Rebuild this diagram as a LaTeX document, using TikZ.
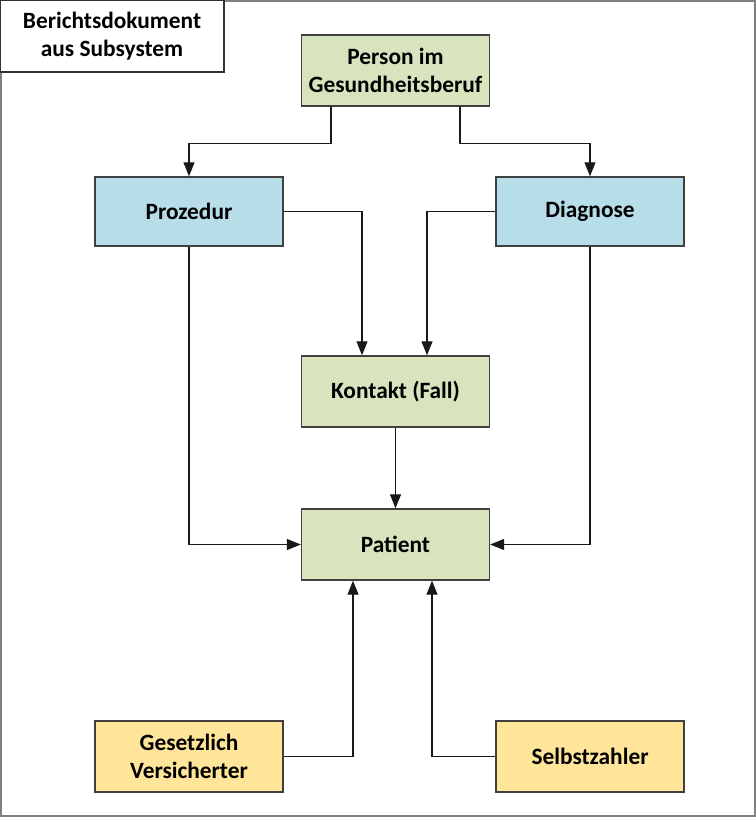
\documentclass[tikz,border=0pt]{standalone}
\usepackage{fontspec}
\setmainfont{Carlito}
\usepackage{tikz}
\usetikzlibrary{arrows.meta,calc}
\usepackage{xcolor}
\definecolor{boxgreen}{HTML}{D7E4BD}
\definecolor{boxblue}{HTML}{B7DDE8}
\definecolor{boxyellow}{HTML}{FEE599}
\definecolor{edgegray}{HTML}{404040}
\definecolor{framegray}{HTML}{808080}

\begin{document}
\begin{tikzpicture}[x=0.02cm,y=-0.02cm,>={Triangle[length=2.8mm,width=2.2mm]},
  box/.style={draw=edgegray,line width=0.8pt,inner sep=0pt,minimum width=3.76cm,minimum height=1.42cm,
    align=center,font=\fontsize{13.3}{16}\selectfont\bfseries},
  conn/.style={->,line width=0.6pt,black!90}]
  \useasboundingbox (0,0) rectangle (756,817);
  \draw[framegray,line width=1.2pt] (1,1) rectangle (755,816);
  \node[box,draw=black!80,minimum width=4.48cm,minimum height=1.44cm,fill=white] (titel) at (112,36) {Berichtsdokument\\aus Subsystem};

  \node[box,fill=boxgreen] (person) at (395.5,70.5) {Person im\\Gesundheitsberuf};
  \node[box,fill=boxblue,minimum height=1.38cm] (prozedur) at (189,211.5) {Prozedur};
  \node[box,fill=boxblue,minimum height=1.38cm] (diagnose) at (590,211.5) {Diagnose};
  \node[box,fill=boxgreen] (kontakt) at (395.5,391.5) {Kontakt (Fall)};
  \node[box,fill=boxgreen] (patient) at (395.5,544.5) {Patient};
  \node[box,fill=boxyellow] (gesetzlich) at (189,756.5) {Gesetzlich\\Versicherter};
  \node[box,fill=boxyellow] (selbst) at (590,756.5) {Selbstzahler};

  \draw[conn] ([xshift=-1.29cm]person.south) -- ++(0,37) -| (prozedur.north);
  \draw[conn] ([xshift=1.29cm]person.south) -- ++(0,37) -| (diagnose.north);
  \draw[conn] (prozedur.east) -| ([xshift=-0.67cm]kontakt.north);
  \draw[conn] (diagnose.west) -| ([xshift=0.63cm]kontakt.north);
  \draw[conn] (kontakt) -- (patient);
  \draw[conn] (prozedur.south) |- (patient.west);
  \draw[conn] (diagnose.south) |- (patient.east);
  \draw[conn] (gesetzlich.east) -| ([xshift=-0.85cm]patient.south);
  \draw[conn] (selbst.west) -| ([xshift=0.73cm]patient.south);
\end{tikzpicture}
\end{document}
